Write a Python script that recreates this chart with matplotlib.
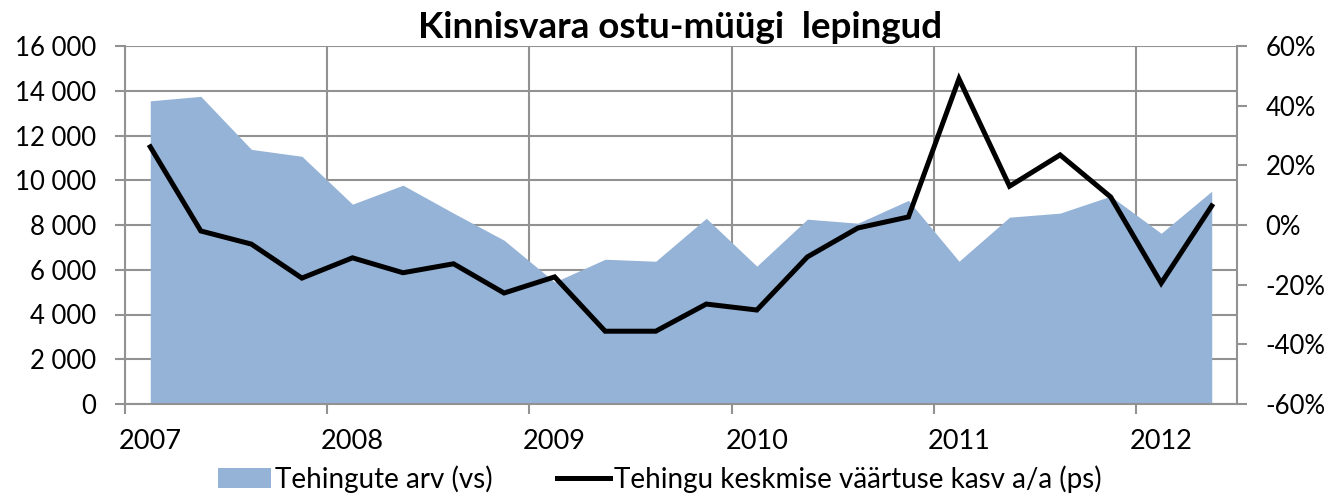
import matplotlib
matplotlib.use("Agg")
import matplotlib.pyplot as plt
from matplotlib.ticker import FuncFormatter, FixedLocator
from matplotlib.patches import Patch
from matplotlib.lines import Line2D

plt.rcParams['font.family'] = ['Lato', 'DejaVu Sans']

years = ['2007', '2008', '2009', '2010', '2011', '2012']
deals = [13550, 13750, 11380, 11070, 8930, 9780, 8530, 7320,
         5450, 6470, 6380, 8300, 6160, 8260, 8080, 9100,
         6380, 8350, 8530, 9290, 7630, 9510]
growth = [0.262, -0.02, -0.064, -0.178, -0.11, -0.16, -0.13, -0.228,
          -0.174, -0.356, -0.356, -0.265, -0.285, -0.107, -0.01, 0.027,
          0.49, 0.13, 0.235, 0.094, -0.195, 0.064]
title = 'Kinnisvara ostu-müügi  lepingud'
label_area = 'Tehingute arv (vs)'
label_line = 'Tehingu keskmise väärtuse kasv a/a (ps)'

area_color = '#95B3D7'
grid_color = '#929292'
W, H = 1333, 493
fig = plt.figure(figsize=(W / 100, H / 100), dpi=100)
ax = fig.add_axes([125 / W, 1 - 404 / H, (1237 - 125) / W, (404 - 46) / H])
ax2 = ax.twinx()

x = list(range(len(deals)))
ax.fill_between(x, deals, 0, color=area_color, linewidth=0, zorder=2)
ax2.plot(x, growth, color='black', linewidth=3.6, solid_joinstyle='miter', zorder=3)

ax.set_xlim(-0.5, len(deals) - 0.5)
ax.set_ylim(0, 16000)
ax2.set_ylim(-0.6, 0.6)

ax.set_yticks(range(0, 16001, 2000))
ax.yaxis.set_major_formatter(FuncFormatter(lambda v, p: f'{int(v):,}'.replace(',', ' ')))
ax2.set_yticks([-0.6, -0.4, -0.2, 0, 0.2, 0.4, 0.6])
ax2.yaxis.set_major_formatter(FuncFormatter(lambda v, p: f'{round(v * 100):d}%'))

bounds = [-0.5 + 4 * i for i in range(len(years))]
ax.xaxis.set_major_locator(FixedLocator(bounds))
ax.set_xticklabels([''] * len(bounds))
ax.xaxis.set_minor_locator(FixedLocator([4 * i for i in range(len(years))]))
ax.set_xticklabels(years, minor=True)
ax.tick_params(axis='x', which='minor', length=0, pad=18, labelsize=19.5)
ax.tick_params(axis='x', which='major', length=7.5, color=grid_color, width=1.5)
ax.tick_params(axis='y', length=7.5, color=grid_color, width=1.5, labelsize=18.5, pad=13)
ax2.tick_params(axis='y', length=7.5, color=grid_color, width=1.5, labelsize=18.5, pad=13)

ax.grid(True, which='major', color=grid_color, linewidth=1.5)
ax.set_axisbelow(True)

for a in (ax, ax2):
    a.spines['top'].set_visible(False)
    for s in ['left', 'bottom', 'right']:
        a.spines[s].set_color(grid_color)
        a.spines[s].set_linewidth(1.5)
ax.spines['right'].set_visible(False)
ax2.spines['left'].set_visible(False)
ax2.spines['bottom'].set_visible(False)

fig.text(680 / W, 1 - 27 / H, title, ha='center', va='center',
         fontsize=26.5, fontweight='bold')

handles = [Patch(facecolor=area_color, edgecolor='none'),
           Line2D([0], [0], color='black', linewidth=3.6)]
fig.legend(handles, [label_area, label_line], loc='center',
           bbox_to_anchor=(660 / W, 1 - 479 / H), ncol=2, frameon=False,
           fontsize=20, handlelength=1.9, handletextpad=0.15, columnspacing=2.3,
           borderaxespad=0, borderpad=0)

fig.savefig('out.png', dpi=100)
